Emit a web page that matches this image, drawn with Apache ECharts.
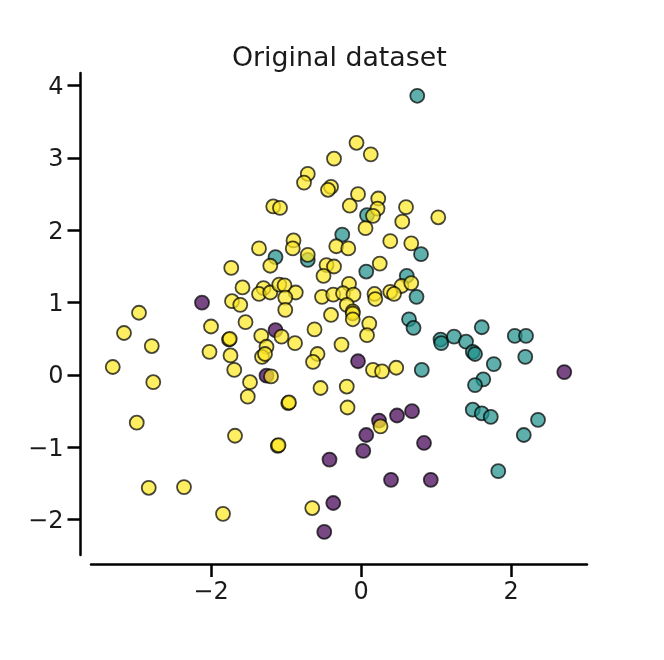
<!DOCTYPE html>
<html>
<head>
<meta charset="utf-8">
<title>Original dataset</title>
<script src="https://cdn.jsdelivr.net/npm/echarts@6/dist/echarts.min.js"></script>
<style>
  html, body { margin: 0; padding: 0; background: #fff; }
  #chart { width: 664px; height: 660px; }
</style>
</head>
<body>
<div id="chart"></div>
<script>
const xTicks = [-2, 0, 2];
const yTicks = [-2, -1, 0, 1, 2, 3, 4];

const class0 = [
  [-2.12, 1.00], [-1.14, 0.62], [-1.26, -0.01], [-0.04, 0.19], [0.68, -0.50], [0.48, -0.56],
  [0.24, -0.63], [0.07, -0.83], [0.84, -0.94], [0.03, -1.05], [-0.42, -1.17], [2.71, 0.04],
  [0.93, -1.45], [0.40, -1.45], [-0.37, -1.77], [-0.49, -2.17]
];

const class1 = [
  [0.75, 3.86], [0.08, 2.21], [-0.25, 1.94], [0.80, 1.67], [-1.14, 1.63], [-0.71, 1.59],
  [0.07, 1.43], [0.61, 1.37], [0.74, 1.08], [0.64, 0.77], [0.70, 0.65], [1.06, 0.49],
  [1.07, 0.44], [0.81, 0.07], [1.24, 0.53], [1.40, 0.46], [1.49, 0.32], [1.52, 0.29],
  [1.61, 0.66], [1.77, 0.15], [1.63, -0.06], [1.52, -0.14], [1.49, -0.48], [1.61, -0.53],
  [1.73, -0.58], [2.05, 0.54], [2.20, 0.54], [2.19, 0.25], [2.36, -0.62], [2.17, -0.83],
  [1.83, -1.33]
];

const class2 = [
  [-0.06, 3.21], [0.13, 3.05], [-0.36, 2.99], [-0.71, 2.78], [-0.76, 2.66], [-0.40, 2.60],
  [-0.44, 2.56], [-0.04, 2.50], [0.23, 2.44], [0.22, 2.30], [0.16, 2.20], [-0.15, 2.34],
  [0.60, 2.32], [0.55, 2.12], [1.03, 2.18], [-1.17, 2.33], [-1.08, 2.31], [0.06, 2.03],
  [-0.33, 1.78], [-0.17, 1.75], [0.39, 1.85], [0.67, 1.82], [-0.90, 1.86], [-0.91, 1.75],
  [-1.36, 1.75], [-1.21, 1.51], [-0.71, 1.66], [-1.73, 1.48], [-0.46, 1.52], [-0.36, 1.50],
  [-0.50, 1.37], [0.25, 1.54], [0.54, 1.23], [0.67, 1.27], [-0.16, 1.26], [0.39, 1.15],
  [0.44, 1.12], [0.18, 1.12], [0.19, 1.05], [-0.52, 1.08], [-0.37, 1.11], [-0.24, 1.13],
  [-0.10, 1.11], [-1.58, 1.21], [-1.72, 1.02], [-1.61, 0.97], [-1.30, 1.20], [-1.36, 1.12],
  [-1.21, 1.14], [-1.09, 1.25], [-1.02, 1.24], [-0.87, 1.14], [-1.01, 1.07], [-1.01, 0.90],
  [-0.40, 0.83], [-0.19, 0.97], [-0.11, 0.88], [-0.11, 0.85], [-0.11, 0.77], [0.11, 0.71],
  [0.08, 0.55], [-1.54, 0.73], [-2.00, 0.67], [-1.33, 0.54], [-1.06, 0.53], [-0.88, 0.44],
  [-0.62, 0.63], [-0.26, 0.42], [-1.76, 0.49], [-1.75, 0.50], [-1.26, 0.39], [-1.32, 0.25],
  [-1.28, 0.29], [-2.02, 0.32], [-1.74, 0.27], [-0.58, 0.29], [-0.64, 0.18], [-1.69, 0.07],
  [0.16, 0.07], [0.28, 0.05], [0.47, 0.10], [-1.20, -0.02], [-1.48, -0.10], [-1.51, -0.30],
  [-0.54, -0.18], [-0.19, -0.16], [-0.97, -0.39], [-0.96, -0.38], [-0.18, -0.45], [0.26, -0.71],
  [-1.68, -0.84], [-1.11, -0.98], [-1.10, -0.97], [-3.31, 0.11], [-3.16, 0.58], [-2.96, 0.86],
  [-2.79, 0.40], [-2.77, -0.10], [-2.99, -0.66], [-2.83, -1.56], [-2.36, -1.55], [-1.84, -1.92],
  [-0.65, -1.84]
];

const classColors = ['#440154', '#21918c', '#fde725'];

const textColor = '#1a1a1a';
const font = 'DejaVu Sans';

function tickLabel(v) {
  return String(v).replace('-', '\u2212');
}

// y labels sit a touch lower than ECharts centres them
function yTickLabel(v) {
  return '{t|' + tickLabel(v) + '}';
}

function makeSeries(data, color) {
  return {
    type: 'scatter',
    data: data,
    symbol: 'circle',
    symbolSize: 14,
    silent: true,
    itemStyle: {
      color: color,
      borderColor: '#000',
      borderWidth: 1.8,
      opacity: 0.72
    }
  };
}

const chart = echarts.init(document.getElementById('chart'), null, { renderer: 'canvas' });

chart.setOption({
  animation: false,
  backgroundColor: '#fff',
  title: {
    text: 'Original dataset',
    left: 227,
    top: 41,
    textStyle: { fontFamily: font, fontSize: 26.8, fontWeight: 'normal', color: textColor }
  },
  grid: { left: 91, right: 77, top: 73, bottom: 105 },
  xAxis: {
    type: 'value',
    min: -3.6,
    max: 3.013,
    offset: 9,
    splitLine: { show: false },
    axisLine: { onZero: false, lineStyle: { color: '#000', width: 2.5 } },
    axisTick: { length: 13, customValues: xTicks, lineStyle: { color: '#000', width: 2.5 } },
    axisLabel: {
      customValues: xTicks,
      formatter: tickLabel,
      margin: 17,
      fontFamily: font,
      fontSize: 24,
      color: textColor
    }
  },
  yAxis: {
    type: 'value',
    min: -2.489,
    max: 4.175,
    offset: 10.5,
    splitLine: { show: false },
    axisLine: { onZero: false, lineStyle: { color: '#000', width: 2.5 } },
    axisTick: { length: 13, customValues: yTicks, lineStyle: { color: '#000', width: 2.5 } },
    axisLabel: {
      customValues: yTicks,
      formatter: yTickLabel,
      margin: 17,
      rich: {
        t: { fontFamily: font, fontSize: 24, color: textColor, padding: [4, 0, 0, 0] }
      }
    }
  },
  series: [
    makeSeries(class0, classColors[0]),
    makeSeries(class1, classColors[1]),
    makeSeries(class2, classColors[2])
  ]
});
</script>
</body>
</html>
